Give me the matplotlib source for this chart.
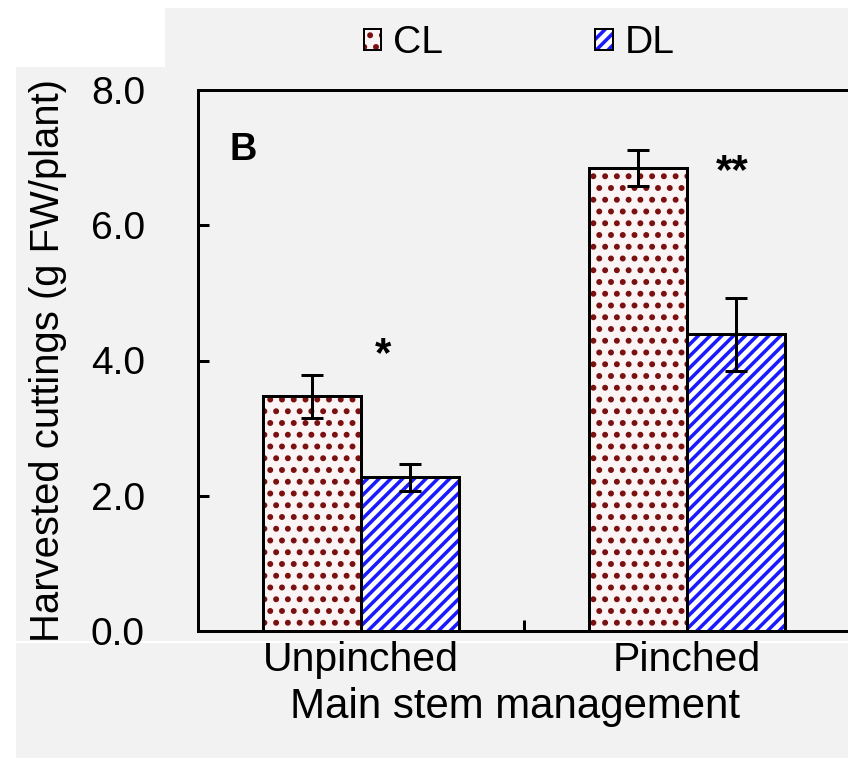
import matplotlib.pyplot as plt
import numpy as np
from matplotlib.patches import Rectangle, Patch
from matplotlib.lines import Line2D

DPI = 141
PT = 72 / DPI  # points per pixel at this dpi
W, H = 848, 758

groups = ["Unpinched", "Pinched"]
cl_mean = [3.47, 6.85]
cl_err = [0.32, 0.27]
dl_mean = [2.27, 4.39]
dl_err = [0.20, 0.54]
sig_labels = ["*", "**"]
sig_x = [0.067, 1.138]
sig_y = [3.92, 6.63]
yticks = [0, 2, 4, 6, 8]

cl_face, cl_dots = '#fbf4f4', '#7a1010'
dl_face, dl_lines = 'white', '#1a1aff'
bg = '#f2f2f2'

plt.rcParams['font.family'] = ['Liberation Sans', 'DejaVu Sans']
plt.rcParams['hatch.linewidth'] = 1.8

fig = plt.figure(figsize=(W / DPI, H / DPI), dpi=DPI, facecolor=bg)

# white margins around the grey panel
for (x0, y0, w, h) in [(0, 0, 16, H), (0, 0, W, 8), (0, 0, 165, 67)]:
    fig.patches.append(Rectangle((x0 / W, 1 - (y0 + h) / H), w / W, h / H,
                                 transform=fig.transFigure, facecolor='white',
                                 edgecolor='none', zorder=-1))
fig.add_artist(Line2D([16 / W, 1], [1 - 642 / H] * 2, transform=fig.transFigure,
                      color='white', lw=2 * PT, zorder=-0.5))

ax = fig.add_axes([198 / W, 1 - 631 / H, 652 / W, 541 / H])
ax.set_facecolor(bg)

x = np.arange(len(groups))
w = 0.3
lw = 3 * PT

ax.bar(x - w / 2, cl_mean, w, color=cl_face, edgecolor=cl_dots, hatch='..', linewidth=0)
ax.bar(x - w / 2, cl_mean, w, fill=False, edgecolor='black', linewidth=lw)
ax.bar(x + w / 2, dl_mean, w, color=dl_face, edgecolor=dl_lines, hatch='////', linewidth=0)
ax.bar(x + w / 2, dl_mean, w, fill=False, edgecolor='black', linewidth=lw)

ax.errorbar(x - w / 2, cl_mean, yerr=cl_err, fmt='none', ecolor='black',
            elinewidth=lw, capsize=11 * PT, capthick=lw, zorder=4)
ax.errorbar(x + w / 2, dl_mean, yerr=dl_err, fmt='none', ecolor='black',
            elinewidth=lw, capsize=11 * PT, capthick=lw, zorder=4)

for sx, sy, s in zip(sig_x, sig_y, sig_labels):
    ax.text(sx, sy, s, ha='center', va='baseline', fontsize=42 * PT, fontweight='bold')

ax.text(-0.362, 7.11, 'B', ha='center', va='center', fontsize=38 * PT, fontweight='bold')

ax.set_xlim(-0.5, 1.5)
ax.set_ylim(0, 8)
ax.set_yticks(yticks)
ax.yaxis.set_major_formatter('{x:.1f}')
ax.set_xticks(x, groups)
ax.set_xticks([0.5], minor=True)

for sp in ax.spines.values():
    sp.set_linewidth(lw)

ax.tick_params(axis='y', direction='in', length=11 * PT, width=lw,
               labelsize=39 * PT, pad=53 * PT, right=False)
ax.tick_params(axis='x', which='major', length=0, labelsize=41 * PT, pad=10 * PT)
ax.tick_params(axis='x', which='minor', direction='in', length=11 * PT, width=lw)

ax.set_ylabel('Harvested cuttings (g FW/plant)', fontsize=40 * PT, labelpad=24 * PT)
ax.set_xlabel('Main stem management', fontsize=42 * PT)
ax.xaxis.set_label_coords((515 - 198) / 652, -0.1035)

handles = [
    (Patch(facecolor=cl_face, edgecolor=cl_dots, hatch='..', linewidth=0),
     Patch(fill=False, edgecolor='black', linewidth=2 * PT)),
    (Patch(facecolor=dl_face, edgecolor=dl_lines, hatch='////', linewidth=0),
     Patch(fill=False, edgecolor='black', linewidth=2 * PT)),
]
fig.legend(handles, ['CL', 'DL'], loc='center', bbox_to_anchor=(519 / W, 1 - 43 / H),
           ncol=2, frameon=False, fontsize=39 * PT, handlelength=0.45,
           handleheight=0.45, handletextpad=0.3, columnspacing=3.9)

fig.savefig('out.png', dpi=DPI, facecolor=fig.get_facecolor())
